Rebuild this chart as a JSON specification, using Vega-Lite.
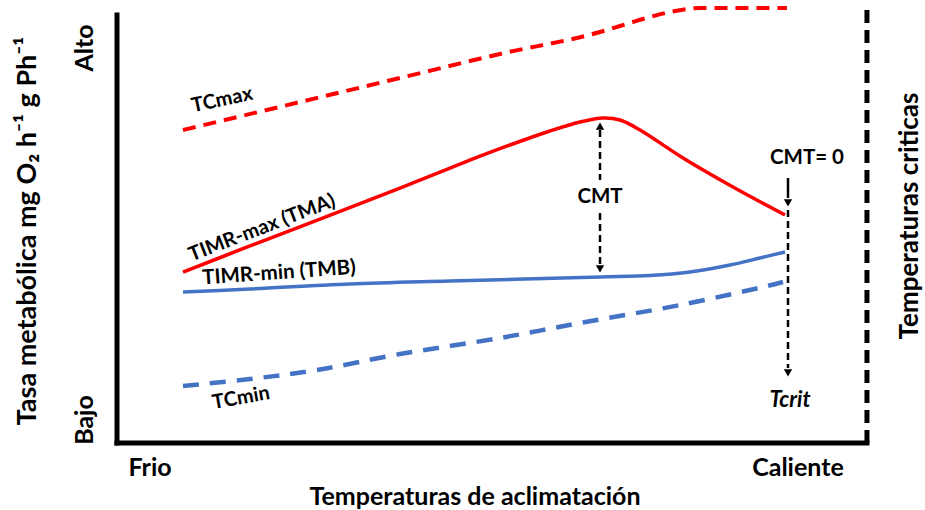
{
  "$schema": "https://vega.github.io/schema/vega-lite/v6.json",
  "width": 925,
  "height": 510,
  "autosize": "none",
  "padding": 0,
  "background": "white",
  "config": {"view": {"stroke": null}, "text": {"font": "Lato"}},
  "datasets": {
    "curves": [
      {"serie": "TCmax", "t": 8.81, "m": 72.29},
      {"serie": "TCmax", "t": 24.43, "m": 78.75},
      {"serie": "TCmax", "t": 37.78, "m": 84.3},
      {"serie": "TCmax", "t": 51.13, "m": 89.84},
      {"serie": "TCmax", "t": 64.49, "m": 94.92},
      {"serie": "TCmax", "t": 67.16, "m": 96.3},
      {"serie": "TCmax", "t": 71.16, "m": 98.38},
      {"serie": "TCmax", "t": 74.5, "m": 99.77},
      {"serie": "TCmax", "t": 77.84, "m": 100.46},
      {"serie": "TCmax", "t": 89.45, "m": 100.46},
      {"serie": "TMA", "t": 8.81, "m": 39.49},
      {"serie": "TMA", "t": 17.76, "m": 45.5},
      {"serie": "TMA", "t": 27.1, "m": 51.73},
      {"serie": "TMA", "t": 37.78, "m": 58.89},
      {"serie": "TMA", "t": 45.79, "m": 64.43},
      {"serie": "TMA", "t": 52.47, "m": 68.82},
      {"serie": "TMA", "t": 57.81, "m": 72.06},
      {"serie": "TMA", "t": 61.82, "m": 74.13},
      {"serie": "TMA", "t": 64.89, "m": 75.06},
      {"serie": "TMA", "t": 67.16, "m": 74.6},
      {"serie": "TMA", "t": 69.83, "m": 72.29},
      {"serie": "TMA", "t": 75.57, "m": 65.82},
      {"serie": "TMA", "t": 82.24, "m": 59.12},
      {"serie": "TMA", "t": 89.19, "m": 52.66},
      {"serie": "TMB", "t": 8.81, "m": 34.87},
      {"serie": "TMB", "t": 17.76, "m": 35.57},
      {"serie": "TMB", "t": 31.11, "m": 36.72},
      {"serie": "TMB", "t": 44.46, "m": 37.41},
      {"serie": "TMB", "t": 64.49, "m": 38.34},
      {"serie": "TMB", "t": 71.16, "m": 38.68},
      {"serie": "TMB", "t": 76.5, "m": 39.49},
      {"serie": "TMB", "t": 81.84, "m": 41.11},
      {"serie": "TMB", "t": 85.85, "m": 42.73},
      {"serie": "TMB", "t": 89.19, "m": 44.11},
      {"serie": "TCmin", "t": 8.81, "m": 13.16},
      {"serie": "TCmin", "t": 17.76, "m": 14.78},
      {"serie": "TCmin", "t": 26.7, "m": 16.86},
      {"serie": "TCmin", "t": 37.78, "m": 20.55},
      {"serie": "TCmin", "t": 51.13, "m": 24.25},
      {"serie": "TCmin", "t": 61.82, "m": 27.71},
      {"serie": "TCmin", "t": 75.17, "m": 31.87},
      {"serie": "TCmin", "t": 86.25, "m": 36.03},
      {"serie": "TCmin", "t": 88.92, "m": 37.18}
    ],
    "guides": [
      {"kind": "axis", "t": 0, "m": 0, "t2": 0, "m2": 98.85},
      {"kind": "axis", "t": 0, "m": 0, "t2": 100.13, "m2": 0},
      {"kind": "crit", "t": 100.13, "m": 0, "t2": 100.13, "m2": 100},
      {"kind": "thin", "t": 64.49, "m": 72.29, "t2": 64.49, "m2": 60.74},
      {"kind": "thin", "t": 64.49, "m": 53.12, "t2": 64.49, "m2": 41.11},
      {"kind": "thin", "t": 89.59, "m": 53.81, "t2": 89.59, "m2": 17.32},
      {"kind": "solid", "t": 89.59, "m": 61.2, "t2": 89.59, "m2": 56.6}
    ],
    "heads": [
      {"t": 64.49, "m": 73.21, "shape": "triangle-up"},
      {"t": 64.49, "m": 40.19, "shape": "triangle-down"},
      {"t": 89.59, "m": 55.43, "shape": "triangle-down"},
      {"t": 89.59, "m": 16.17, "shape": "triangle-down"}
    ],
    "labels": [
      {"text": "Alto", "t": -4.27, "m": 91.22, "angle": -90, "size": 25},
      {"text": "Bajo", "t": -4.27, "m": 5.31, "angle": -90, "size": 25},
      {"text": "Tasa metabólica mg O₂ h⁻¹ g Ph⁻¹", "t": -11.88, "m": 48.96, "angle": -90, "size": 27},
      {"text": "Frio", "t": 4.41, "m": -5.77, "angle": 0, "size": 25},
      {"text": "Caliente", "t": 90.92, "m": -5.77, "angle": 0, "size": 25},
      {"text": "Temperaturas de aclimatación", "t": 47.8, "m": -12.47, "angle": 0, "size": 25},
      {"text": "Temperaturas criticas", "t": 105.85, "m": 52.42, "angle": -90, "size": 26},
      {"text": "TCmax", "t": 14.02, "m": 79.21, "angle": -12, "size": 20},
      {"text": "TIMR-max (TMA)", "t": 19.36, "m": 49.65, "angle": -21, "size": 20},
      {"text": "TIMR-min (TMB)", "t": 21.63, "m": 39.26, "angle": -4, "size": 20.5},
      {"text": "TCmin", "t": 16.56, "m": 10.39, "angle": -10, "size": 20},
      {"text": "CMT", "t": 64.49, "m": 56.81, "angle": 0, "size": 20.5},
      {"text": "CMT= 0", "t": 92.12, "m": 65.82, "angle": 0, "size": 20.5}
    ]
  },
  "layer": [
    {
      "data": {"name": "guides"},
      "transform": [{"filter": "datum.kind === 'axis'"}],
      "mark": {"type": "rule", "color": "black", "strokeWidth": 5, "strokeCap": "square"},
      "encoding": {
        "x": {"field": "t", "type": "quantitative", "scale": {"domain": [-15.62, 107.88], "nice": false, "zero": false}, "axis": null},
        "y": {"field": "m", "type": "quantitative", "scale": {"domain": [-15.47, 102.31], "nice": false, "zero": false}, "axis": null},
        "x2": {"field": "t2"},
        "y2": {"field": "m2"}
      }
    },
    {
      "data": {"name": "guides"},
      "transform": [{"filter": "datum.kind === 'crit'"}],
      "mark": {"type": "rule", "color": "black", "strokeWidth": 5, "strokeDash": [13, 7]},
      "encoding": {
        "x": {"field": "t", "type": "quantitative", "axis": null},
        "y": {"field": "m", "type": "quantitative", "axis": null},
        "x2": {"field": "t2"},
        "y2": {"field": "m2"}
      }
    },
    {
      "data": {"name": "guides"},
      "transform": [{"filter": "datum.kind === 'thin'"}],
      "mark": {"type": "rule", "color": "black", "strokeWidth": 2.5, "strokeDash": [7, 4]},
      "encoding": {
        "x": {"field": "t", "type": "quantitative", "axis": null},
        "y": {"field": "m", "type": "quantitative", "axis": null},
        "x2": {"field": "t2"},
        "y2": {"field": "m2"}
      }
    },
    {
      "data": {"name": "guides"},
      "transform": [{"filter": "datum.kind === 'solid'"}],
      "mark": {"type": "rule", "color": "black", "strokeWidth": 2.5},
      "encoding": {
        "x": {"field": "t", "type": "quantitative", "axis": null},
        "y": {"field": "m", "type": "quantitative", "axis": null},
        "x2": {"field": "t2"},
        "y2": {"field": "m2"}
      }
    },
    {
      "data": {"name": "curves"},
      "transform": [{"filter": "datum.serie === 'TCmax'"}],
      "mark": {"type": "line", "color": "#FF0000", "strokeWidth": 4, "strokeDash": [13, 8], "interpolate": "monotone"},
      "encoding": {
        "x": {"field": "t", "type": "quantitative", "axis": null},
        "y": {"field": "m", "type": "quantitative", "axis": null},
        "order": {"field": "t"}
      }
    },
    {
      "data": {"name": "curves"},
      "transform": [{"filter": "datum.serie === 'TMA'"}],
      "mark": {"type": "line", "color": "#FF0000", "strokeWidth": 3.5, "interpolate": "catmull-rom"},
      "encoding": {
        "x": {"field": "t", "type": "quantitative", "axis": null},
        "y": {"field": "m", "type": "quantitative", "axis": null},
        "order": {"field": "t"}
      }
    },
    {
      "data": {"name": "curves"},
      "transform": [{"filter": "datum.serie === 'TMB'"}],
      "mark": {"type": "line", "color": "#4472C4", "strokeWidth": 3.5, "interpolate": "catmull-rom"},
      "encoding": {
        "x": {"field": "t", "type": "quantitative", "axis": null},
        "y": {"field": "m", "type": "quantitative", "axis": null},
        "order": {"field": "t"}
      }
    },
    {
      "data": {"name": "curves"},
      "transform": [{"filter": "datum.serie === 'TCmin'"}],
      "mark": {"type": "line", "color": "#4472C4", "strokeWidth": 4.5, "strokeDash": [16, 11], "interpolate": "catmull-rom"},
      "encoding": {
        "x": {"field": "t", "type": "quantitative", "axis": null},
        "y": {"field": "m", "type": "quantitative", "axis": null},
        "order": {"field": "t"}
      }
    },
    {
      "data": {"name": "heads"},
      "mark": {"type": "point", "filled": true, "color": "black", "size": 70, "opacity": 1},
      "encoding": {
        "x": {"field": "t", "type": "quantitative", "axis": null},
        "y": {"field": "m", "type": "quantitative", "axis": null},
        "shape": {"field": "shape", "type": "nominal", "scale": null}
      }
    },
    {
      "data": {"name": "labels"},
      "mark": {"type": "text", "fontWeight": "bold", "align": "center", "baseline": "middle", "color": "black"},
      "encoding": {
        "x": {"field": "t", "type": "quantitative", "axis": null},
        "y": {"field": "m", "type": "quantitative", "axis": null},
        "text": {"field": "text"},
        "angle": {"field": "angle", "type": "quantitative", "scale": null},
        "size": {"field": "size", "type": "quantitative", "scale": null}
      }
    },
    {
      "data": {"values": [{"text": "Tcrit", "t": 89.85, "m": 9.93}]},
      "mark": {"type": "text", "fontWeight": "bold", "fontStyle": "italic", "fontSize": 22, "align": "center", "baseline": "middle", "color": "black"},
      "encoding": {
        "x": {"field": "t", "type": "quantitative", "axis": null},
        "y": {"field": "m", "type": "quantitative", "axis": null},
        "text": {"field": "text"}
      }
    }
  ]
}
